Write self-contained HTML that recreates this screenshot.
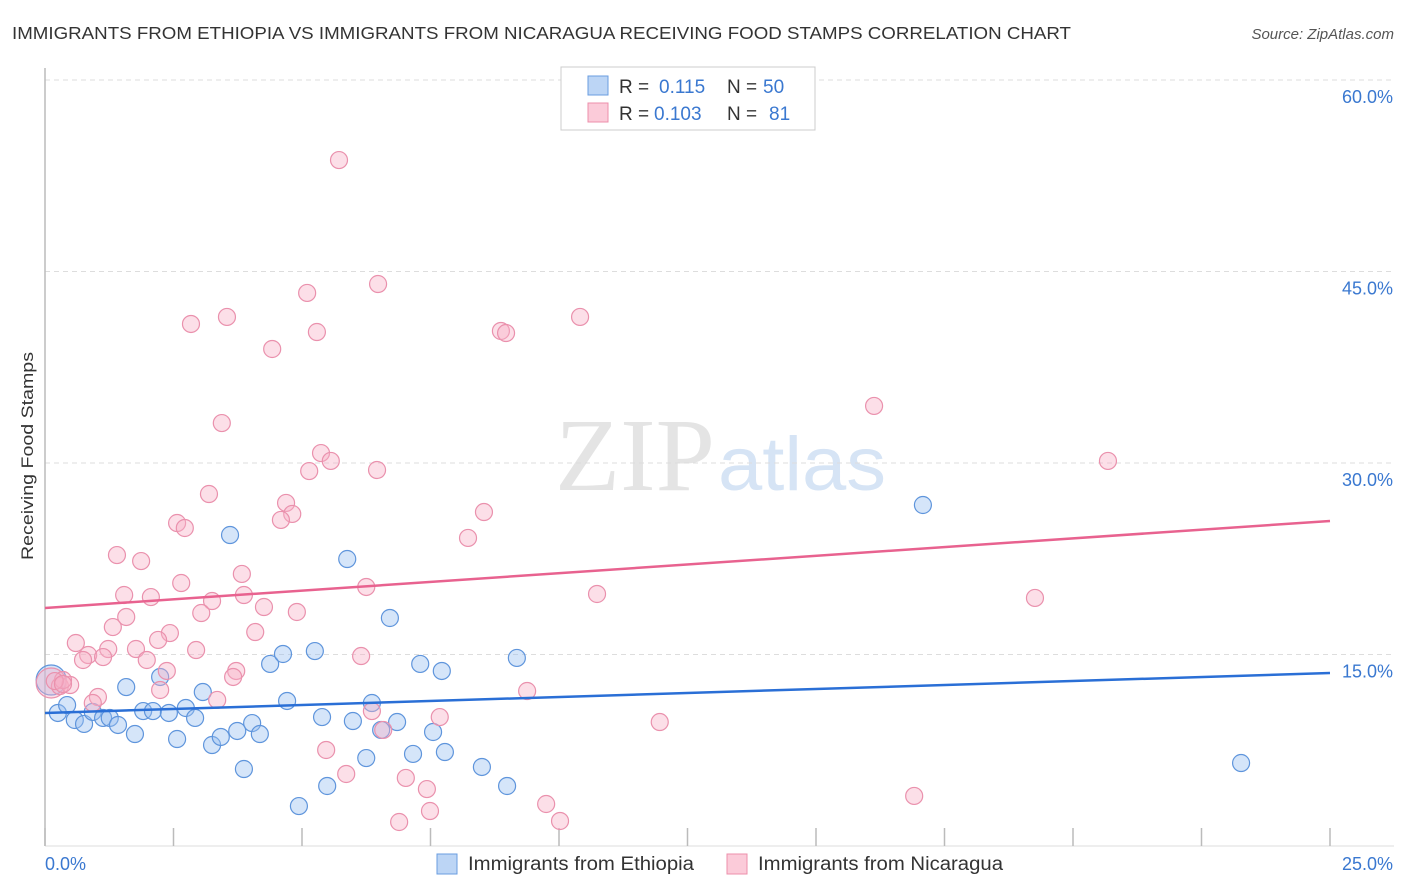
<!DOCTYPE html>
<html><head><meta charset="utf-8"><style>
body{margin:0;background:#fff;font-family:"Liberation Sans",sans-serif;}
</style></head><body>
<svg id="chart" width="1406" height="892" xmlns="http://www.w3.org/2000/svg" style="display:block">
<text x="12" y="39" font-size="17.5" fill="#333" textLength="1059" lengthAdjust="spacingAndGlyphs">IMMIGRANTS FROM ETHIOPIA VS IMMIGRANTS FROM NICARAGUA RECEIVING FOOD STAMPS CORRELATION CHART</text>
<text x="1394" y="39" font-size="15" fill="#555" font-style="italic" text-anchor="end">Source: ZipAtlas.com</text>
<text x="555" y="490" font-size="104" fill="#e4e4e4" font-family="Liberation Serif,serif" textLength="160" lengthAdjust="spacingAndGlyphs">ZIP</text>
<text x="718" y="490" font-size="76" fill="#d6e4f5" textLength="168" lengthAdjust="spacingAndGlyphs">atlas</text>
<text transform="translate(33,456) rotate(-90)" font-size="17" fill="#333" text-anchor="middle" textLength="208" lengthAdjust="spacingAndGlyphs">Receiving Food Stamps</text>
<g id="grid"></g><g id="axes"></g><g id="pts"></g><g id="lines"></g>
<g>
<rect x="561" y="67" width="254" height="63" fill="#fff" stroke="#ccc"/>
<rect x="588" y="76" width="20" height="19" fill="#bcd5f5" stroke="#6a9de0"/>
<rect x="588" y="103" width="20" height="19" fill="#fbcbd9" stroke="#ec8fab"/>
<text x="619" y="93" font-size="19" fill="#333">R =</text>
<text x="659" y="93" font-size="19" fill="#3a78d0">0.115</text>
<text x="727" y="93" font-size="19" fill="#333">N =</text>
<text x="763" y="93" font-size="19" fill="#3a78d0">50</text>
<text x="619" y="120" font-size="19" fill="#333">R =</text>
<text x="654" y="120" font-size="19" fill="#3a78d0">0.103</text>
<text x="727" y="120" font-size="19" fill="#333">N =</text>
<text x="769" y="120" font-size="19" fill="#3a78d0">81</text>
</g>
<g>
<rect x="437" y="854" width="20" height="20" fill="#bcd5f5" stroke="#6a9de0"/>
<text x="468" y="870" font-size="19" fill="#333" textLength="226" lengthAdjust="spacingAndGlyphs">Immigrants from Ethiopia</text>
<rect x="727" y="854" width="20" height="20" fill="#fbcbd9" stroke="#ec8fab"/>
<text x="758" y="870" font-size="19" fill="#333" textLength="245" lengthAdjust="spacingAndGlyphs">Immigrants from Nicaragua</text>
</g>
</svg>
<script>
const xTicks=[0,2.5,5,7.5,10,12.5,15,17.5,20,22.5,25];
const yTicks=[15,30,45,60];
const yTickLabels=["15.0%","30.0%","45.0%","60.0%"];
const xEndLabels=["0.0%","25.0%"];
const ethX=[3.60,5.88,6.71,17.08,23.27,0.12,0.25,0.43,0.58,0.76,0.93,1.13,1.26,1.42,1.58,1.75,1.91,2.10,2.24,2.41,2.57,2.74,2.92,3.07,3.25,3.42,3.74,3.87,4.03,4.18,4.38,4.63,4.71,4.94,5.25,5.39,5.49,5.99,6.25,6.36,6.54,6.85,7.16,7.30,7.55,7.72,7.78,8.50,8.99,9.18];
const ethY=[24.36,22.48,17.86,26.71,6.50,13.00,10.42,11.04,9.87,9.56,10.50,10.03,10.03,9.48,12.45,8.77,10.57,10.57,13.24,10.42,8.38,10.81,10.03,12.06,7.91,8.54,9.01,6.03,9.63,8.77,14.26,15.04,11.36,3.13,15.27,10.10,4.70,9.79,6.89,11.20,9.09,9.71,7.21,14.26,8.93,13.71,7.36,6.19,4.70,14.73];
const nicX=[5.72,6.48,5.10,5.29,2.84,3.54,4.42,8.87,8.97,10.41,16.13,3.44,5.37,5.56,5.14,6.46,3.19,20.68,4.69,4.81,4.59,8.54,2.57,2.72,8.23,1.40,1.87,3.83,2.65,6.25,10.74,19.26,1.54,2.06,3.87,3.25,4.26,4.90,3.04,1.58,1.32,2.43,4.09,2.20,0.60,1.23,1.77,2.94,0.84,1.13,0.74,1.98,2.37,3.72,6.15,3.66,0.12,0.29,0.49,0.35,0.19,2.24,9.38,1.03,0.93,3.35,6.36,7.68,11.96,6.58,5.47,5.86,7.02,7.43,16.91,9.75,7.49,6.89,10.02,0.35];
const nicY=[53.73,44.02,43.32,40.26,40.89,41.44,38.93,40.34,40.18,41.44,34.47,33.13,30.78,30.16,29.37,29.45,27.57,30.16,26.87,26.01,25.54,26.16,25.30,24.91,24.13,22.79,22.32,21.31,20.60,20.29,19.74,19.43,19.66,19.50,19.66,19.19,18.72,18.33,18.25,17.94,17.15,16.68,16.76,16.14,15.90,15.43,15.43,15.35,14.96,14.80,14.57,14.57,13.71,13.71,14.88,13.24,12.77,12.53,12.61,13.00,12.92,12.22,12.14,11.67,11.20,11.44,10.57,10.10,9.71,9.09,7.52,5.64,5.33,4.46,3.92,3.29,2.74,1.88,1.96,12.69];
const ethTrend=[10.42,13.55];
const nicTrend=[18.64,25.46];
const NS="http://www.w3.org/2000/svg";
const X=v=>45+v/25*1285;
const Y=v=>846-v/15*191.5;
function mk(tag,attrs,parent){const e=document.createElementNS(NS,tag);for(const k in attrs)e.setAttribute(k,attrs[k]);document.getElementById(parent).appendChild(e);return e;}
yTicks.forEach((t,i)=>{
 const g=mk('line',{x1:45,x2:1394,y1:Y(t),y2:Y(t),stroke:'#ddd','stroke-dasharray':'5,4'},'grid');
 
 
 const l=mk('text',{x:1393,y:Y(t)+23,'font-size':18,fill:'#3a78d0','text-anchor':'end'},'axes');
 l.textContent=yTickLabels[i];
 
 
});
const ax=mk('line',{x1:45,x2:45,y1:68,y2:846,stroke:'#bbb','stroke-width':1.5},'axes');


const bx=mk('line',{x1:45,x2:1394,y1:846,y2:846,stroke:'#ddd'},'axes');


xTicks.forEach(t=>{
 const tk=mk('line',{x1:X(t),x2:X(t),y1:828,y2:846,stroke:'#bbb','stroke-width':1.5},'axes');
 
 
});
const xl0=mk('text',{x:45,y:870,'font-size':18,fill:'#3a78d0'},'axes');
xl0.textContent=xEndLabels[0];


const xl1=mk('text',{x:1393,y:870,'font-size':18,fill:'#3a78d0','text-anchor':'end'},'axes');
xl1.textContent=xEndLabels[1];


function dots(xs,ys,fill,stroke,name){
 xs.forEach((x,i)=>{
  const r=(i===5&&name==='ethiopia-point')||(i===56&&name==='nicaragua-point')?15:8.5;
  const c=mk('circle',{cx:X(x),cy:Y(ys[i]),r:r,fill:fill,stroke:stroke,'stroke-width':1.2},'pts');
  
  
 });
}
dots(ethX,ethY,'rgba(150,190,240,0.4)','#5f95dc','ethiopia-point');
dots(nicX,nicY,'rgba(247,175,198,0.4)','#ea91ad','nicaragua-point');
const l1=mk('line',{x1:X(0),y1:Y(ethTrend[0]),x2:X(25),y2:Y(ethTrend[1]),stroke:'#2a6fd6','stroke-width':2.5},'lines');


const l2=mk('line',{x1:X(0),y1:Y(nicTrend[0]),x2:X(25),y2:Y(nicTrend[1]),stroke:'#e8628f','stroke-width':2.5},'lines');


</script>
</body></html>
